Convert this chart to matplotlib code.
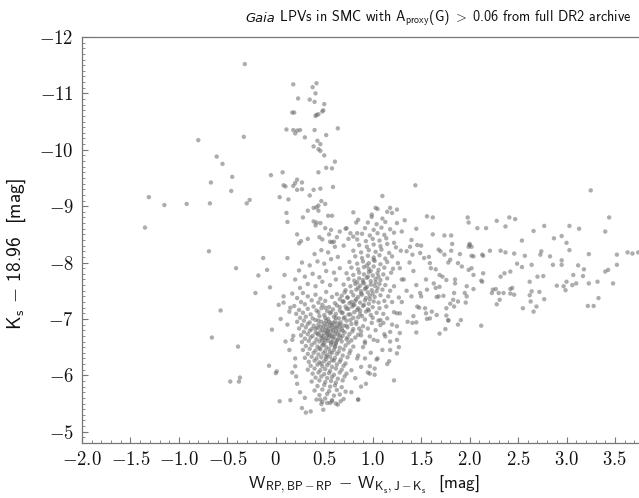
import matplotlib
matplotlib.use("Agg")
import matplotlib.pyplot as plt
import numpy as np

plt.rcParams['font.family'] = ['cmss10', 'DejaVu Sans']
plt.rcParams['mathtext.fontset'] = 'cm'
plt.rcParams['axes.unicode_minus'] = False

# ---------------- data ----------------
halo_pts = [
    (-0.32, -11.52), (0.18, -11.16), (0.42, -11.18), (0.38, -11.11), (0.41, -11.00),
    (0.23, -10.91), (0.35, -10.89), (0.40, -10.85), (0.50, -10.81), (0.17, -10.66),
    (0.19, -10.66), (0.42, -10.62), (0.44, -10.63), (0.41, -10.60), (0.48, -10.68),
    (0.49, -10.70), (0.11, -10.36), (0.18, -10.35), (0.22, -10.34), (0.20, -10.29),
    (0.25, -10.35), (0.40, -10.35), (0.30, -10.22), (0.43, -10.16), (0.46, -10.10),
    (0.52, -10.26), (0.64, -10.38), (-0.33, -10.23), (-0.80, -10.17), (0.39, -10.06),
    (0.44, -10.01), (0.46, -9.98), (0.50, -9.90), (-0.61, -9.88), (-0.55, -9.75),
    (0.61, -9.79), (0.52, -9.68), (0.58, -9.67), (0.44, -9.60), (-0.05, -9.55),
    (0.07, -9.60), (-0.45, -9.52), (0.22, -9.47), (0.27, -9.42), (0.20, -9.41),
    (0.08, -9.37), (0.10, -9.35), (0.18, -9.36), (0.22, -9.29), (0.27, -9.30),
    (-0.67, -9.42), (0.39, -9.29), (0.46, -9.31), (0.59, -9.34), (-0.46, -9.27),
    (0.04, -9.16), (0.13, -9.12), (0.35, -9.19), (-1.31, -9.16), (-1.15, -9.02),
    (-0.92, -9.04), (-0.68, -9.05), (-0.30, -9.05), (-0.27, -9.11), (0.47, -9.09),
    (0.51, -9.04), (0.44, -9.01), (0.42, -8.98), (0.44, -8.92), (0.39, -8.97),
    (0.33, -8.92), (0.11, -8.88), (0.80, -8.89), (0.54, -8.83), (0.58, -8.83),
    (0.28, -8.80), (0.39, -8.73), (0.42, -8.71), (0.46, -8.70), (0.41, -8.66),
    (0.12, -8.72), (-1.35, -8.62), (0.51, -8.61), (0.57, -8.58), (0.73, -8.61),
    (0.83, -8.71), (0.85, -8.76), (0.80, -8.46), (0.84, -8.52), (0.77, -8.52),
    (0.22, -8.50), (0.24, -8.34), (0.26, -8.38), (0.33, -8.42), (0.48, -8.41),
    (0.56, -8.37), (0.60, -8.37), (-0.69, -8.20), (1.44, -9.37), (1.10, -9.18),
    (3.25, -9.28), (1.03, -8.97), (1.18, -8.97), (1.25, -8.94), (0.99, -8.85),
    (1.20, -8.88), (-0.41, -7.90), (-0.57, -7.15), (-0.66, -6.67), (-0.39, -6.51),
    (-0.47, -5.89), (-0.38, -5.89), (-0.37, -5.96), (-0.13, -8.08), (-0.18, -7.77),
    (-0.09, -7.87), (-0.21, -7.46), (-0.06, -7.56), (0.12, -8.08), (0.09, -7.78),
    (0.24, -7.86), (0.14, -7.13), (0.08, -7.29), (-0.04, -6.81), (0.17, -6.63),
    (0.20, -6.16), (0.21, -5.98), (-0.07, -6.17), (0.00, -6.04), (0.01, -6.07),
    (0.04, -5.54), (0.15, -5.56), (0.27, -5.42), (0.31, -5.34), (0.36, -5.36),
    (0.49, -5.39), (0.46, -5.57), (0.48, -5.53), (0.53, -5.51), (0.58, -5.54),
    (0.62, -5.50), (0.67, -5.54), (0.85, -5.57),
]

tail_pts = [
    (1.56, -8.82), (1.62, -8.80), (1.98, -8.80), (1.99, -8.71), (2.41, -8.80),
    (2.47, -8.77), (2.28, -8.74), (3.44, -8.80), (2.08, -8.61), (2.17, -8.61),
    (2.37, -8.64), (2.77, -8.65), (3.03, -8.65), (3.13, -8.60), (2.66, -8.56),
    (3.40, -8.55), (2.54, -8.39), (2.87, -8.43), (2.95, -8.47), (3.00, -8.35),
    (3.03, -8.22), (2.00, -8.33), (2.02, -8.28), (1.81, -8.48), (1.74, -8.48),
    (1.82, -8.33), (1.81, -8.21), (2.21, -8.21), (2.32, -8.21), (2.37, -8.18),
    (2.14, -8.12), (2.74, -8.20), (2.73, -8.14), (3.23, -8.15), (3.52, -8.14),
    (3.63, -8.18), (3.68, -8.16), (3.74, -8.18), (2.46, -8.16), (2.13, -8.14),
    (2.57, -8.12), (2.64, -7.96), (2.83, -8.11), (2.86, -7.96), (2.95, -8.04),
    (2.95, -7.96), (3.12, -7.95), (3.18, -7.88), (3.52, -7.96), (3.43, -7.87),
    (3.40, -7.84), (3.48, -7.63), (3.32, -7.66), (3.23, -7.63), (3.33, -7.37),
    (3.22, -7.23), (3.28, -7.23), (3.10, -7.63), (3.07, -7.78), (3.17, -7.76),
    (3.06, -7.60), (3.00, -7.66), (2.99, -7.51), (2.97, -7.58), (2.90, -7.59),
    (2.70, -7.75), (2.76, -7.76), (2.62, -7.66), (2.64, -7.49), (2.72, -7.48),
    (2.77, -7.35), (2.62, -7.42), (2.63, -7.31), (2.66, -7.13), (2.55, -7.19),
    (2.69, -7.22), (2.24, -7.52), (2.27, -7.53), (2.23, -7.46), (2.30, -7.46),
    (2.35, -7.46), (2.42, -7.53), (2.44, -7.55), (2.42, -7.45), (2.46, -7.43),
    (2.31, -7.34), (2.28, -7.26), (2.32, -7.75), (2.36, -7.81), (2.42, -7.84),
    (2.49, -7.98), (2.54, -7.92), (2.12, -6.88), (2.12, -7.68), (2.13, -7.66),
    (2.14, -7.81), (2.04, -7.78), (2.02, -7.90), (1.99, -7.87), (2.04, -8.11),
    (2.02, -8.12), (1.99, -8.28), (2.00, -8.31), (2.04, -7.53), (1.97, -7.40),
    (1.96, -7.29), (1.97, -7.58), (1.91, -6.98), (1.88, -6.90), (1.83, -7.34),
    (1.80, -7.27), (1.75, -6.82), (1.69, -6.74), (1.78, -6.97), (1.76, -7.06),
    (1.68, -7.40), (1.73, -7.41), (1.66, -7.39), (1.59, -7.01), (1.56, -7.00),
    (1.45, -6.76), (1.41, -6.93), (1.45, -6.94), (1.25, -6.39), (1.17, -6.25),
    (1.22, -5.91), (1.02, -6.01), (0.97, -6.03), (0.93, -5.85), (0.85, -5.57),
    (1.25, -6.63), (1.385, -8.28), (1.46, -8.31), (1.41, -8.14), (1.49, -8.17),
    (1.53, -8.08), (1.59, -7.99), (1.65, -7.88), (1.69, -7.78), (1.63, -7.63),
    (1.56, -7.52), (1.49, -7.46), (1.40, -7.40), (1.46, -7.22), (1.54, -7.19),
    (1.61, -7.13), (1.66, -7.07), (1.76, -7.19), (1.84, -7.22), (1.78, -6.98),
    (1.69, -7.57), (1.76, -7.69), (1.85, -7.63), (1.92, -7.93), (1.88, -7.99),
    (1.80, -8.05), (1.74, -8.14), (1.68, -8.23), (1.95, -7.46), (1.88, -7.31),
    (1.84, -7.46),
]

fringe_pts = [
    (1.08, -6.98), (1.13, -6.69), (1.18, -6.45), (1.04, -6.28), (0.97, -6.16),
    (1.25, -6.87), (1.28, -7.10), (1.11, -6.93), (1.01, -6.63),
    (0.25, -7.55), (0.33, -7.62), (0.41, -7.58), (0.48, -7.66), (0.56, -7.60),
    (0.62, -7.70), (0.30, -7.75), (0.38, -7.80), (0.45, -7.74), (0.52, -7.85),
    (0.60, -7.82), (0.66, -7.90), (0.35, -7.95), (0.43, -8.02), (0.50, -7.98),
    (0.57, -8.06), (0.64, -8.10), (0.40, -8.15), (0.47, -8.22), (0.54, -8.18),
    (0.61, -8.28), (0.70, -8.30), (0.45, -8.45), (0.55, -8.50), (0.63, -8.45),
    (0.72, -8.60), (0.27, -8.00), (0.20, -7.70), (0.17, -7.45), (0.58, -8.36),
    (0.66, -8.55), (0.75, -8.42),
    (1.25, -7.10), (1.30, -7.30), (1.35, -7.50), (1.32, -7.70), (1.28, -7.90),
    (1.38, -8.00), (1.42, -7.85), (1.45, -7.60), (1.50, -7.40), (1.48, -7.20),
    (1.55, -7.70), (1.60, -7.90), (1.58, -8.10), (1.35, -8.20), (1.40, -8.40),
    (1.30, -8.55), (1.25, -8.70), (1.50, -8.30), (1.62, -8.50), (1.70, -8.20),
    (1.65, -7.55), (1.72, -7.75), (1.78, -8.00), (1.85, -7.70), (1.90, -8.15),
    (1.20, -6.90), (1.28, -6.75), (1.36, -6.95), (1.42, -7.05), (1.55, -7.10),
    (1.22, -8.35), (1.15, -8.90), (1.05, -8.95), (1.33, -8.75), (1.45, -8.60),
    (1.18, -6.60), (1.27, -6.50), (1.10, -6.45), (0.98, -6.40), (1.05, -6.30),
    (1.15, -6.20), (0.92, -6.30), (0.88, -6.15), (0.95, -6.05), (1.02, -6.12),
    (0.82, -5.95), (0.88, -5.80), (0.78, -5.70), (0.90, -6.50), (0.85, -6.35),
    (0.92, -6.60),
    (0.05, -7.00), (0.12, -6.90), (0.15, -7.20), (0.08, -7.40), (0.18, -6.70),
    (0.14, -6.45), (0.20, -6.30), (0.17, -6.05), (0.22, -5.85), (0.25, -5.70),
    (0.30, -5.60), (0.10, -6.60), (0.03, -7.25),
]

rgb_clump_pts = [
    (0.28, -7.46), (0.41, -7.43), (0.52, -7.48), (0.63, -7.44), (0.71, -7.47),
    (0.22, -7.37), (0.33, -7.40), (0.46, -7.36), (0.58, -7.39), (0.66, -7.35), (0.74, -7.38),
    (0.26, -7.30), (0.37, -7.33), (0.44, -7.29), (0.51, -7.32), (0.61, -7.28), (0.69, -7.31), (0.78, -7.30),
    (0.19, -7.23), (0.30, -7.26), (0.39, -7.22), (0.48, -7.25), (0.55, -7.21), (0.63, -7.24), (0.72, -7.22), (0.81, -7.25),
    (0.24, -7.16), (0.33, -7.18), (0.42, -7.15), (0.47, -7.19), (0.53, -7.14), (0.59, -7.17), (0.66, -7.15), (0.75, -7.18), (0.84, -7.16),
    (0.21, -7.09), (0.28, -7.11), (0.36, -7.08), (0.44, -7.12), (0.50, -7.07), (0.56, -7.10), (0.62, -7.09), (0.69, -7.11), (0.77, -7.08),
    (0.25, -7.02), (0.31, -7.04), (0.38, -7.01), (0.45, -7.05), (0.51, -7.02), (0.54, -7.00), (0.60, -7.04), (0.65, -7.01), (0.71, -7.03), (0.80, -7.02),
    (0.22, -6.95), (0.29, -6.97), (0.35, -6.94), (0.41, -6.98), (0.47, -6.95), (0.52, -6.97), (0.57, -6.93), (0.61, -6.96), (0.67, -6.94), (0.73, -6.97), (0.83, -6.95),
    (0.27, -6.89), (0.33, -6.91), (0.39, -6.88), (0.44, -6.90), (0.49, -6.87), (0.53, -6.91), (0.58, -6.89), (0.62, -6.86), (0.66, -6.90), (0.70, -6.88), (0.78, -6.91),
    (0.24, -6.83), (0.31, -6.85), (0.37, -6.82), (0.43, -6.84), (0.48, -6.81), (0.52, -6.85), (0.55, -6.83), (0.59, -6.80), (0.63, -6.84), (0.68, -6.82), (0.74, -6.85), (0.86, -6.83),
    (0.29, -6.77), (0.35, -6.79), (0.41, -6.76), (0.46, -6.78), (0.50, -6.75), (0.54, -6.79), (0.57, -6.77), (0.61, -6.74), (0.65, -6.78), (0.71, -6.76), (0.79, -6.78),
    (0.26, -6.71), (0.33, -6.73), (0.38, -6.70), (0.44, -6.72), (0.49, -6.69), (0.53, -6.73), (0.56, -6.71), (0.60, -6.68), (0.64, -6.72), (0.69, -6.70), (0.76, -6.73), (0.88, -6.71),
    (0.30, -6.65), (0.36, -6.67), (0.42, -6.64), (0.47, -6.66), (0.51, -6.63), (0.55, -6.67), (0.59, -6.65), (0.63, -6.62), (0.67, -6.66), (0.73, -6.64), (0.82, -6.67),
    (0.27, -6.59), (0.34, -6.61), (0.40, -6.58), (0.45, -6.60), (0.50, -6.57), (0.54, -6.61), (0.58, -6.59), (0.62, -6.56), (0.68, -6.60), (0.75, -6.58),
    (0.31, -6.52), (0.37, -6.54), (0.43, -6.51), (0.48, -6.53), (0.52, -6.50), (0.57, -6.54), (0.61, -6.52), (0.66, -6.49), (0.72, -6.53), (0.80, -6.51),
    (0.28, -6.45), (0.35, -6.47), (0.41, -6.44), (0.46, -6.46), (0.51, -6.43), (0.55, -6.47), (0.60, -6.45), (0.65, -6.42), (0.70, -6.46), (0.77, -6.44),
    (0.33, -6.38), (0.39, -6.40), (0.44, -6.37), (0.49, -6.39), (0.53, -6.36), (0.58, -6.40), (0.63, -6.38), (0.69, -6.35), (0.76, -6.39),
    (0.30, -6.31), (0.37, -6.33), (0.42, -6.30), (0.47, -6.32), (0.52, -6.29), (0.56, -6.33), (0.61, -6.31), (0.67, -6.28), (0.74, -6.32), (0.84, -6.30),
    (0.34, -6.24), (0.40, -6.26), (0.45, -6.23), (0.50, -6.25), (0.55, -6.22), (0.60, -6.26), (0.66, -6.24), (0.72, -6.21),
    (0.36, -6.17), (0.43, -6.19), (0.48, -6.16), (0.53, -6.18), (0.58, -6.15), (0.63, -6.19), (0.70, -6.17),
    (0.33, -6.10), (0.40, -6.12), (0.46, -6.09), (0.51, -6.11), (0.56, -6.08), (0.62, -6.12), (0.68, -6.10), (0.78, -6.09),
    (0.38, -6.03), (0.44, -6.05), (0.50, -6.02), (0.55, -6.04), (0.60, -6.01), (0.66, -6.05), (0.73, -6.03),
    (0.41, -5.96), (0.47, -5.98), (0.53, -5.95), (0.58, -5.97), (0.64, -5.94), (0.71, -5.98),
    (0.37, -5.89), (0.45, -5.91), (0.51, -5.88), (0.57, -5.90), (0.62, -5.87), (0.69, -5.91),
    (0.43, -5.81), (0.50, -5.83), (0.56, -5.80), (0.61, -5.82), (0.68, -5.79),
    (0.40, -5.73), (0.48, -5.75), (0.55, -5.72), (0.63, -5.74), (0.72, -5.71),
    (0.45, -5.65), (0.53, -5.67), (0.60, -5.64), (0.66, -5.66),
    (0.42, -5.57), (0.51, -5.59), (0.58, -5.56), (0.70, -5.58),
    (0.47, -5.49), (0.56, -5.51), (0.64, -5.48),
    (0.46, -6.86), (0.51, -6.80), (0.56, -6.88), (0.60, -6.92), (0.54, -6.72),
    (0.48, -6.62), (0.58, -6.70), (0.62, -6.78), (0.43, -6.74), (0.52, -6.66),
    (0.57, -6.58), (0.50, -6.92), (0.64, -6.64), (0.47, -6.70), (0.55, -6.95),
    (0.41, -6.83), (0.66, -6.86), (0.53, -6.77), (0.59, -6.84), (0.49, -6.55),
    (0.61, -6.50), (0.45, -6.48), (0.56, -6.41), (0.52, -6.33), (0.58, -6.27),
    (0.47, -6.21), (0.44, -6.97), (0.62, -7.02), (0.57, -7.12), (0.51, -7.20),
]

agb_clump_pts = [
    (0.62, -6.58), (0.78, -6.62), (0.92, -6.57), (1.05, -6.61),
    (0.66, -6.71), (0.74, -6.67), (0.85, -6.72), (0.97, -6.69), (1.12, -6.73),
    (0.69, -6.79), (0.80, -6.82), (0.88, -6.78), (0.95, -6.83), (1.03, -6.80), (1.18, -6.77),
    (0.64, -6.92), (0.73, -6.88), (0.83, -6.91), (0.90, -6.87), (0.99, -6.93), (1.08, -6.89),
    (0.70, -7.01), (0.77, -6.98), (0.85, -7.03), (0.92, -6.99), (1.00, -7.02), (1.06, -6.97), (1.15, -7.01),
    (0.68, -7.11), (0.75, -7.08), (0.81, -7.12), (0.87, -7.09), (0.93, -7.13), (0.98, -7.07), (1.04, -7.11), (1.11, -7.09), (1.22, -7.12),
    (0.66, -7.21), (0.73, -7.18), (0.79, -7.22), (0.85, -7.19), (0.90, -7.23), (0.95, -7.17), (1.00, -7.21), (1.07, -7.19), (1.14, -7.22),
    (0.70, -7.31), (0.76, -7.28), (0.82, -7.32), (0.87, -7.29), (0.92, -7.33), (0.96, -7.27), (1.01, -7.31), (1.06, -7.29), (1.12, -7.32), (1.20, -7.30),
    (0.68, -7.41), (0.74, -7.38), (0.80, -7.42), (0.85, -7.39), (0.89, -7.43), (0.93, -7.37), (0.97, -7.41), (1.02, -7.39), (1.08, -7.42), (1.16, -7.40), (1.27, -7.38),
    (0.72, -7.51), (0.78, -7.48), (0.83, -7.52), (0.88, -7.49), (0.92, -7.53), (0.95, -7.47), (0.99, -7.51), (1.04, -7.49), (1.10, -7.52), (1.18, -7.50),
    (0.70, -7.61), (0.77, -7.58), (0.82, -7.62), (0.87, -7.59), (0.91, -7.63), (0.94, -7.57), (0.98, -7.61), (1.02, -7.59), (1.07, -7.62), (1.13, -7.60), (1.22, -7.58),
    (0.75, -7.71), (0.81, -7.68), (0.86, -7.72), (0.90, -7.69), (0.94, -7.73), (0.98, -7.67), (1.03, -7.71), (1.08, -7.69), (1.15, -7.72), (1.30, -7.70),
    (0.73, -7.81), (0.80, -7.78), (0.86, -7.82), (0.91, -7.79), (0.96, -7.83), (1.00, -7.77), (1.05, -7.81), (1.11, -7.79), (1.19, -7.82),
    (0.78, -7.91), (0.85, -7.88), (0.91, -7.92), (0.96, -7.89), (1.01, -7.93), (1.06, -7.87), (1.12, -7.91), (1.21, -7.89),
    (0.76, -8.01), (0.84, -7.98), (0.90, -8.02), (0.96, -7.99), (1.02, -8.03), (1.08, -7.97), (1.15, -8.01), (1.26, -7.99),
    (0.82, -8.11), (0.89, -8.08), (0.95, -8.12), (1.01, -8.09), (1.07, -8.13), (1.13, -8.07), (1.20, -8.11),
    (0.80, -8.21), (0.88, -8.18), (0.96, -8.22), (1.03, -8.19), (1.09, -8.23), (1.17, -8.17), (1.29, -8.21),
    (0.86, -8.31), (0.94, -8.28), (1.01, -8.32), (1.08, -8.29), (1.15, -8.33), (1.24, -8.27),
    (0.84, -8.41), (0.93, -8.38), (1.00, -8.42), (1.07, -8.39), (1.14, -8.43),
    (0.89, -8.51), (0.97, -8.48), (1.05, -8.52), (1.12, -8.49), (1.22, -8.53),
    (0.92, -8.61), (1.01, -8.58), (1.09, -8.62), (1.18, -8.59),
    (0.95, -8.71), (1.04, -8.68), (1.13, -8.72),
    (0.99, -8.81), (1.10, -8.78),
    (0.88, -7.45), (0.93, -7.55), (0.97, -7.35), (0.90, -7.65), (0.85, -7.55),
    (1.00, -7.45), (0.95, -7.75), (0.83, -7.35), (0.91, -7.25), (1.03, -7.65),
    (0.87, -7.15), (0.98, -7.85), (1.05, -7.55), (0.80, -7.25), (0.94, -7.95),
    (1.01, -8.05), (0.89, -7.05), (0.96, -7.15), (1.06, -7.75), (0.84, -7.65),
]

x_ticks = [-2.0, -1.5, -1.0, -0.5, 0.0, 0.5, 1.0, 1.5, 2.0, 2.5, 3.0, 3.5]
x_ticklabels = ["−2.0", "−1.5", "−1.0", "−0.5", "0", "0.5", "1.0", "1.5", "2.0", "2.5", "3.0", "3.5"]
y_ticks = [-12, -11, -10, -9, -8, -7, -6, -5]
y_ticklabels = ["−12", "−11", "−10", "−9", "−8", "−7", "−6", "−5"]

# ---------------- figure ----------------
W, H = 639, 498
fig = plt.figure(figsize=(W / 100, H / 100), dpi=100)
ax = fig.add_axes([82 / W, (H - 443) / H, (645 - 82) / W, (443 - 37) / H])

all_pts = halo_pts + tail_pts + fringe_pts + rgb_clump_pts + agb_clump_pts
xs = [p[0] for p in all_pts]
ys = [p[1] for p in all_pts]
ax.scatter(xs, ys, s=10, c='#6a6a6a', alpha=0.55, edgecolors='none')

ax.set_xlim(-2.0, 3.81)
ax.set_ylim(-4.8, -12.0)

def mlabel(s):
    return "$\\mathsf{" + s.replace("−", "-") + "}$"

ax.set_xticks(x_ticks)
ax.set_xticklabels([mlabel(t) for t in x_ticklabels])
ax.set_yticks(y_ticks)
ax.set_yticklabels([mlabel(t) for t in y_ticklabels])
ax.xaxis.set_minor_locator(matplotlib.ticker.MultipleLocator(0.1))
ax.yaxis.set_minor_locator(matplotlib.ticker.MultipleLocator(0.1))

spine_col = '#777777'
for sp in ax.spines.values():
    sp.set_color(spine_col)
    sp.set_linewidth(0.9)
ax.tick_params(which='both', direction='in', colors=spine_col, labelcolor='#111111',
               labelsize=13.5, top=False, right=False)
ax.tick_params(which='major', length=4, width=0.8, pad=6)
ax.tick_params(which='minor', length=2, width=0.6)

ax.set_xlabel(r"W$_\mathsf{RP,BP-RP}$ $-$ W$_\mathsf{K_s,J-K_s}$  [mag]",
              fontsize=12.5, labelpad=3, color='#111111')
ax.set_ylabel(r"K$_\mathsf{s}$ $-$ 18.96  [mag]", fontsize=14, color='#111111')
ax.yaxis.set_label_coords(-54 / 563, (443 - 254) / 406)

# title: italic "Gaia" followed by the rest
tsize = 10.2
rest = fig.text(0, 0.956, r" LPVs in SMC with A$_\mathsf{proxy}$(G)$\;>\;$0.06 from full DR2 archive",
                fontsize=tsize, ha='left', va='baseline', color='#111111')
gaia = fig.text(0, 0.956, "Gaia", fontsize=tsize - 0.8, ha='left', va='baseline',
                family=['DejaVu Sans'], style='italic', color='#111111')
fig.canvas.draw()
r = fig.canvas.get_renderer()
wg = gaia.get_window_extent(r).width
wr = rest.get_window_extent(r).width
x0 = 438 - (wg + wr) / 2
gaia.set_x(x0 / W)
rest.set_x((x0 + wg) / W)

fig.savefig("out.png", dpi=100)
